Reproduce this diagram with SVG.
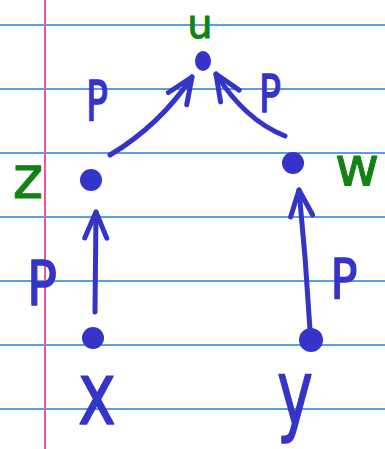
<svg xmlns="http://www.w3.org/2000/svg" width="385" height="449" viewBox="0 0 385 449">
<style>
.rule{stroke:#5a9ee8;stroke-width:2}
.margin{stroke:#f0559f;stroke-width:2}
.dot{fill:#3434c8}
.edge{fill:none;stroke:#3434c8;stroke-width:5;stroke-linecap:round}
.lbl{font-family:"DejaVu Sans",sans-serif;text-anchor:middle;stroke-linejoin:round}
.blue{fill:#3434c8;stroke:#3434c8;stroke-width:1.5}
.green{fill:#128212;stroke:#128212;stroke-width:1}
</style>
<defs>
<marker id="ah" markerUnits="userSpaceOnUse" markerWidth="40" markerHeight="40" refX="0" refY="0" viewBox="-30 -20 40 40" orient="auto" overflow="visible">
<path d="M-26,-11 L0,0 L-26,11" fill="none" stroke="#3434c8" stroke-width="5" stroke-linecap="round" stroke-linejoin="round"/>
</marker>
</defs>
<rect width="385" height="449" fill="#ffffff"/>
<g id="paper">
<line class="rule" x1="0" y1="25" x2="385" y2="25"/>
<line class="rule" x1="0" y1="89" x2="385" y2="89"/>
<line class="rule" x1="0" y1="153" x2="385" y2="153"/>
<line class="rule" x1="0" y1="217" x2="385" y2="217"/>
<line class="rule" x1="0" y1="281" x2="385" y2="281"/>
<line class="rule" x1="0" y1="345" x2="385" y2="345"/>
<line class="rule" x1="0" y1="409" x2="385" y2="409"/>
<line class="margin" x1="45" y1="0" x2="45" y2="449"/>
</g>
<g id="connectors">
<path class="edge" d="M110,155 Q160,125 192,77" marker-end="url(#ah)"/>
<path class="edge" d="M285,136 Q245,120 216,74" marker-end="url(#ah)"/>
<path class="edge" d="M95,312 L96,212" marker-end="url(#ah)"/>
<path class="edge" d="M310,330 Q306,260 299,190" marker-end="url(#ah)"/>
<text class="lbl blue" font-size="56" x="97" y="120" textLength="22" lengthAdjust="spacingAndGlyphs">P</text>
<text class="lbl blue" font-size="52" x="270" y="112" textLength="22" lengthAdjust="spacingAndGlyphs">P</text>
<text class="lbl blue" font-size="60" x="42" y="305" textLength="30" lengthAdjust="spacingAndGlyphs">P</text>
<text class="lbl blue" font-size="56" x="344" y="298" textLength="27" lengthAdjust="spacingAndGlyphs">P</text>
</g>
<g id="node-u">
<ellipse class="dot" cx="203" cy="61" rx="8" ry="10"/>
<text class="lbl green" font-size="40" x="200" y="38">u</text>
</g>
<g id="node-z">
<circle class="dot" cx="91" cy="180" r="11"/>
<text class="lbl green" font-size="58" x="28" y="198">z</text>
</g>
<g id="node-w">
<circle class="dot" cx="293" cy="163" r="11"/>
<text class="lbl green" font-size="54" x="357" y="185">w</text>
</g>
<g id="node-x">
<circle class="dot" cx="93" cy="338" r="11"/>
<text class="lbl blue" font-size="88" x="97" y="424" textLength="38" lengthAdjust="spacingAndGlyphs">x</text>
</g>
<g id="node-y">
<circle class="dot" cx="311" cy="340" r="12"/>
<text class="lbl blue" font-size="90" x="295" y="424" textLength="36" lengthAdjust="spacingAndGlyphs">y</text>
</g>
</svg>
